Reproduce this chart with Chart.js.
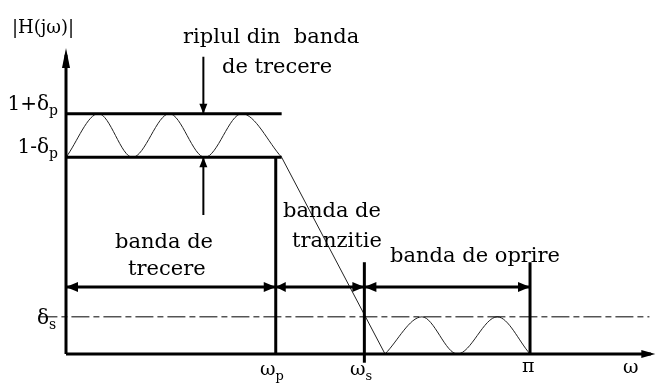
<!DOCTYPE html>
<html>
<head>
<meta charset="utf-8">
<script src="https://cdn.jsdelivr.net/npm/chart.js@4/dist/chart.umd.min.js"></script>
<style>
  html, body { margin: 0; padding: 0; background: #fff; }
  canvas { display: block; }
</style>
</head>
<body>
<canvas id="c" width="657" height="383"></canvas>
<script>
// Low-pass filter tolerance scheme (ω in rad, |H| linear)
const deltaP = 0.10;
const deltaS = 0.17;
const omegaP = 1.42;
const omegaS = 2.02;
const omegaPi = Math.PI;

// |H(jω)|: pass-band ripple extremes
const passOmega = [0, 0.22, 0.45, 0.70, 0.94, 1.19, 1.46];
const passMag   = [0.90, 1.10, 0.90, 1.10, 0.90, 1.10, 0.90];
// roll-off through the transition band
const transOmega = [1.46, 2.16];
const transMag   = [0.90, 0];
// stop-band ripple extremes
const stopOmega = [2.16, 2.41, 2.65, 2.92, 3.1416];
const stopMag   = [0, 0.17, 0, 0.17, 0];

// axis tick labels: [main text, subscript]
const yTickLabels = [['1+δ', 'p'], ['1-δ', 'p'], ['δ', 's']];
const xTickLabels = [['ω', 'p'], ['ω', 's'], ['π', ''], ['ω', '']];
const yAxisTitle = '|H(jω)|';

// band captions
const rippleCaption = ['riplul din  banda', 'de trecere'];
const passCaption = ['banda de', 'trecere'];
const transCaption = ['banda de', 'tranzitie'];
const stopCaption = ['banda de oprire'];

// drawing extents of the helper lines
const axisTop = 1.40;
const axisRight = 3.99;
const specEnd = 1.46;
const bandLevel = 0.307;
const edgeTop = 0.42;
const edgeBottom = -0.04;
const rippleMarkX = 0.93;

const pts = (xs, ys) => xs.map((x, i) => ({ x, y: ys[i] }));
const seg = (x0, y0, x1, y1) => [{ x: x0, y: y0 }, { x: x1, y: y1 }];

function stroke(data, width, extra) {
  return Object.assign({
    data, borderColor: '#000', borderWidth: width,
    pointRadius: 0, tension: 0, fill: false
  }, extra || {});
}

const datasets = [
  // axes
  stroke(seg(0, 0, 0, axisTop - 0.03), 3),
  stroke(seg(0, 0, axisRight - 0.03, 0), 3),
  // pass-band tolerance lines
  stroke(seg(0, 1 + deltaP, specEnd, 1 + deltaP), 3),
  stroke(seg(0, 1 - deltaP, specEnd, 1 - deltaP), 3),
  // band edges
  stroke(seg(omegaP, 0, omegaP, 1 - deltaP), 3),
  stroke(seg(omegaS, edgeBottom, omegaS, edgeTop), 3),
  stroke(seg(omegaPi, 0, omegaPi, edgeTop), 3),
  // band width arrows
  stroke(seg(0, bandLevel, omegaPi, bandLevel), 3),
  // ripple pointers
  stroke(seg(rippleMarkX, 1.36, rippleMarkX, 1 + deltaP), 2),
  stroke(seg(rippleMarkX, 1 - deltaP, rippleMarkX, 0.636), 2),
  // stop-band level
  stroke(seg(-0.18, deltaS, 3.95, deltaS), 1, { borderDash: [18, 4, 6, 4] }),
  // magnitude response
  stroke(pts(passOmega, passMag), 1, { borderColor: '#222', cubicInterpolationMode: 'monotone' }),
  stroke(pts(transOmega, transMag), 1, { borderColor: '#222' }),
  stroke(pts(stopOmega, stopMag), 1, { borderColor: '#222', cubicInterpolationMode: 'monotone' })
];

// arrow tips: [x, y, direction, length, half width]
const arrowTips = [
  [0, axisTop, 'up', 20, 4],
  [axisRight, 0, 'right', 14, 4],
  [0, bandLevel, 'left', 12, 5],
  [omegaP, bandLevel, 'right', 12, 5],
  [omegaP, bandLevel, 'left', 10, 5],
  [omegaS, bandLevel, 'right', 12, 5],
  [omegaS, bandLevel, 'left', 12, 5],
  [omegaPi, bandLevel, 'right', 12, 5],
  [rippleMarkX, 1 + deltaP, 'down', 10, 4],
  [rippleMarkX, 1 - deltaP, 'up', 10, 4]
];

const FONT = '"DejaVu Serif", "Liberation Serif", serif';

// text labels: [parts, x, y, size, align]
const textItems = [
  [[[yAxisTitle, '']], -0.366, 1.469, 18, 'left'],
  [[yTickLabels[0]], -0.054, 1.117, 20, 'right'],
  [[yTickLabels[1]], -0.054, 0.920, 20, 'right'],
  [[yTickLabels[2]], -0.196, 0.137, 20, 'left'],
  [[xTickLabels[0]], 1.313, -0.096, 19, 'left'],
  [[xTickLabels[1]], 1.923, -0.096, 19, 'left'],
  [[xTickLabels[2]], 3.087, -0.082, 19, 'left'],
  [[xTickLabels[3]], 3.771, -0.087, 19, 'left'],
  [[[rippleCaption[0], '']], 0.792, 1.423, 21, 'left'],
  [[[rippleCaption[1], '']], 1.056, 1.286, 21, 'left'],
  [[[passCaption[0], '']], 0.332, 0.485, 21, 'left'],
  [[[passCaption[1], '']], 0.420, 0.362, 21, 'left'],
  [[[transCaption[0], '']], 1.469, 0.627, 21, 'left'],
  [[[transCaption[1], '']], 1.530, 0.490, 21, 'left'],
  [[[stopCaption[0], '']], 2.194, 0.421, 21, 'left']
];

const annotate = {
  id: 'annotate',
  afterDatasetsDraw(chart) {
    const { ctx, scales: { x, y } } = chart;
    ctx.save();
    ctx.fillStyle = '#000';

    arrowTips.forEach(([ax, ay, dir, len, hw]) => {
      const px = x.getPixelForValue(ax), py = y.getPixelForValue(ay);
      const v = { up: [0, 1], down: [0, -1], left: [1, 0], right: [-1, 0] }[dir];
      const bx = px + v[0] * len, by = py + v[1] * len;
      ctx.beginPath();
      ctx.moveTo(px, py);
      ctx.lineTo(bx + v[1] * hw, by + v[0] * hw);
      ctx.lineTo(bx - v[1] * hw, by - v[0] * hw);
      ctx.closePath();
      ctx.fill();
    });

    ctx.textBaseline = 'alphabetic';
    ctx.textAlign = 'left';
    textItems.forEach(([parts, tx, ty, size, align]) => {
      const main = size + 'px ' + FONT;
      const sub = Math.round(size * 0.7) + 'px ' + FONT;
      let total = 0;
      parts.forEach(([m, s]) => {
        ctx.font = main; total += ctx.measureText(m).width;
        if (s) { ctx.font = sub; total += ctx.measureText(s).width; }
      });
      let px = x.getPixelForValue(tx);
      const py = y.getPixelForValue(ty);
      if (align === 'right') px -= total;
      parts.forEach(([m, s]) => {
        ctx.font = main; ctx.fillText(m, px, py); px += ctx.measureText(m).width;
        if (s) { ctx.font = sub; ctx.fillText(s, px, py + 5); px += ctx.measureText(s).width; }
      });
    });
    ctx.restore();
  }
};

new Chart(document.getElementById('c'), {
  type: 'line',
  data: { datasets },
  options: {
    responsive: false,
    animation: false,
    devicePixelRatio: 1,
    events: [],
    layout: { padding: 0 },
    plugins: { legend: { display: false }, tooltip: { enabled: false } },
    scales: {
      x: { type: 'linear', min: -0.4469, max: 4.0013, display: false },
      y: { type: 'linear', min: -0.1328, max: 1.6201, display: false }
    }
  },
  plugins: [annotate]
});
</script>
</body>
</html>
